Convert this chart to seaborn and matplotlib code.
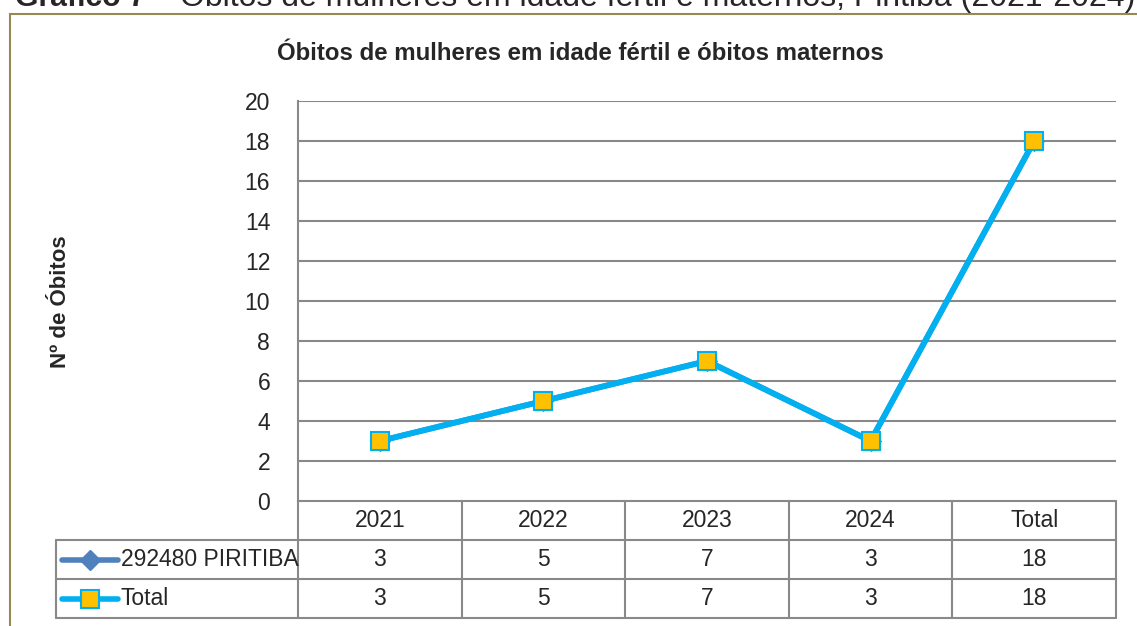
import matplotlib.pyplot as plt
import matplotlib.transforms as mtransforms
from matplotlib.patches import Rectangle
import seaborn as sns
import pandas as pd

categorias = ['2021', '2022', '2023', '2024', 'Total']
piritiba = [3, 5, 7, 3, 18]
total = [3, 5, 7, 3, 18]
series_nomes = ['292480 PIRITIBA', 'Total']
y_ticks = [0, 2, 4, 6, 8, 10, 12, 14, 16, 18, 20]

sns.set_style('white')
plt.rcParams['font.family'] = ['Liberation Sans Narrow', 'Liberation Sans', 'DejaVu Sans']

df = pd.DataFrame({'ano': categorias, 'piritiba': piritiba, 'total': total})

fig = plt.figure(figsize=(11.37, 6.26), dpi=100)
ax = fig.add_axes([298 / 1137, 1 - 501 / 626, 818 / 1137, 400 / 626])

azul_esc = '#4F81BD'
azul = '#00B0F0'
amarelo = '#FFC000'
cinza = '#898989'
fs = 16.5

sns.lineplot(data=df, x='ano', y='piritiba', sort=False, ax=ax, color=azul_esc,
             lw=4, marker='D', markersize=10, markerfacecolor=azul_esc,
             markeredgecolor=azul_esc, zorder=3)
sns.lineplot(data=df, x='ano', y='total', sort=False, ax=ax, color=azul,
             lw=4.2, marker='s', markersize=13.5, markerfacecolor=amarelo,
             markeredgecolor=azul, markeredgewidth=1.5, zorder=4)

ax.set_xlim(-0.5, len(categorias) - 0.5)
ax.set_ylim(0, 20)
ax.set_yticks(y_ticks)
ax.set_yticklabels([str(v) for v in y_ticks], fontsize=fs)
ax.tick_params(axis='y', length=0, pad=20)
ax.set_xticks([])
ax.set_xlabel('')
ax.set_ylabel('')
for v in y_ticks[1:]:
    ax.axhline(v, color=cinza, lw=1.5, zorder=1)
for s in ['top', 'right', 'bottom']:
    ax.spines[s].set_visible(False)
ax.spines['left'].set_color(cinza)
ax.spines['left'].set_linewidth(1.5)

# tabela de dados
tr = mtransforms.blended_transform_factory(ax.transData, ax.transAxes)
rh = 39 / 400
n = len(categorias)
px = n / 818
x_leg = -0.5 - (298 - 56) * px
kw = dict(color=cinza, lw=1.5, clip_on=False, transform=tr)
ax.plot([-0.5, n - 0.5], [0, 0], **kw)
for k in [1, 2, 3]:
    ax.plot([x_leg, n - 0.5], [-k * rh, -k * rh], **kw)
for i in range(n + 1):
    ax.plot([i - 0.5, i - 0.5], [0, -3 * rh], **kw)
ax.plot([x_leg, x_leg], [-rh, -3 * rh], **kw)

for i, c in enumerate(categorias):
    ax.text(i, -0.5 * rh, c, transform=tr, ha='center', va='center', fontsize=fs)
    ax.text(i, -1.5 * rh, str(piritiba[i]), transform=tr, ha='center', va='center', fontsize=fs)
    ax.text(i, -2.5 * rh, str(total[i]), transform=tr, ha='center', va='center', fontsize=fs)

# legendas na tabela
ax.plot([x_leg + 6 * px, x_leg + 62 * px], [-1.5 * rh, -1.5 * rh], color=azul_esc, lw=4,
        clip_on=False, transform=tr)
ax.plot([x_leg + 34 * px], [-1.5 * rh], color=azul_esc, marker='D', markersize=10,
        clip_on=False, transform=tr)
ax.text(x_leg + 65 * px, -1.5 * rh, series_nomes[0], transform=tr, ha='left', va='center', fontsize=fs)
ax.plot([x_leg + 6 * px, x_leg + 62 * px], [-2.5 * rh, -2.5 * rh], color=azul, lw=4,
        clip_on=False, transform=tr)
ax.plot([x_leg + 34 * px], [-2.5 * rh], marker='s', markersize=13, markerfacecolor=amarelo,
        markeredgecolor=azul, markeredgewidth=1.5, clip_on=False, transform=tr)
ax.text(x_leg + 65 * px, -2.5 * rh, series_nomes[1], transform=tr, ha='left', va='center', fontsize=fs)

# titulo e eixo y
fig.text(580 / 1137, 1 - 53 / 626, 'Óbitos de mulheres em idade fértil e óbitos maternos',
         ha='center', va='center', fontsize=17.3, fontweight='bold')
fig.text(61 / 1137, 1 - 302 / 626, 'Nº de Óbitos', rotation=90, ha='center', va='center',
         fontsize=16, fontweight='bold')

# moldura
fig.add_artist(Rectangle((10 / 1137, -0.2), 1.2, 1 - 14 / 626 + 0.2, transform=fig.transFigure,
                         fill=False, edgecolor='#948A54', lw=1.5))

# legenda do grafico (cortada no topo)
fig.text(15 / 1137, 1 - 6 / 626, 'Gráfico 7', ha='left', va='baseline', fontsize=21.7, fontweight='bold')
fig.text(152 / 1137, 1 - 6 / 626, '–', ha='left', va='baseline', fontsize=23)
fig.text(180 / 1137, 1 - 6 / 626, 'Óbitos de mulheres em idade fértil e maternos, Piritiba (2021-2024)',
         ha='left', va='baseline', fontsize=23)

fig.savefig('out.png', dpi=100)
